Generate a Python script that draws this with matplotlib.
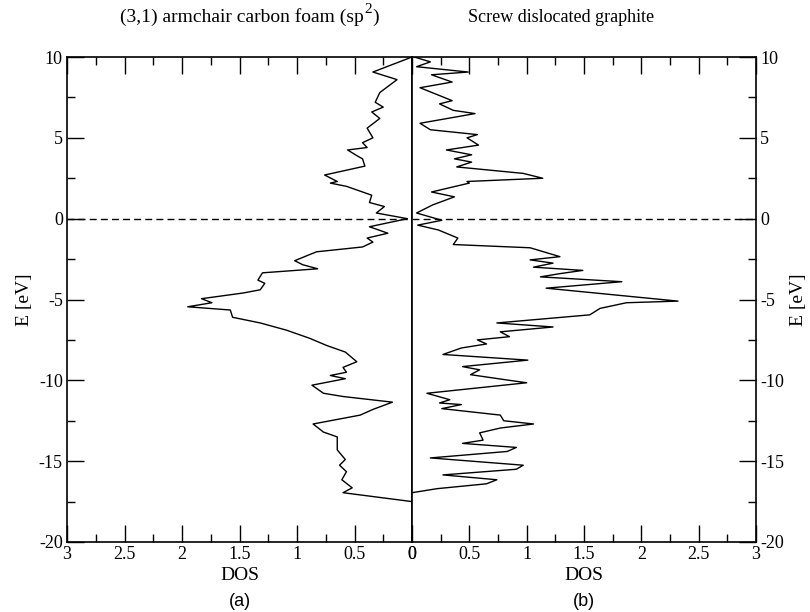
import matplotlib
matplotlib.use("Agg")
import matplotlib.pyplot as plt
from matplotlib.ticker import MultipleLocator, FormatStrFormatter

# (3,1) armchair carbon foam (sp2): energy [eV] and DOS
foam_E = [10.0, 9.07, 8.6, 7.8, 7.2, 6.9, 6.6, 6.2, 5.6, 5.0, 4.7, 4.4, 4.25, 3.9, 3.7,
          3.25, 2.7, 2.3, 2.2, 2.0, 1.45, 1.0, 0.75, 0.35, 0.0, -0.5, -0.9, -1.2, -1.45,
          -1.75, -2.05, -2.25, -2.6, -2.85, -3.1, -3.35, -3.8, -4.0, -4.4, -4.6, -4.95,
          -5.2, -5.45, -5.65, -6.1, -6.45, -6.9, -7.4, -7.85, -8.25, -8.85, -9.2, -9.5,
          -9.7, -9.9, -10.3, -10.8, -11.0, -11.35, -11.8, -12.15, -12.7, -13.2, -13.5,
          -14.3, -14.9, -15.25, -15.65, -16.15, -16.65, -16.95, -17.5]
foam_dos = [0.0, 0.34, 0.13, 0.28, 0.32, 0.25, 0.35, 0.28, 0.39, 0.34, 0.43, 0.39, 0.56, 0.48, 0.43,
            0.41, 0.76, 0.65, 0.71, 0.57, 0.35, 0.37, 0.24, 0.31, 0.04, 0.37, 0.21, 0.39, 0.34,
            0.43, 0.83, 0.90, 1.02, 0.95, 0.82, 1.30, 1.34, 1.28, 1.32, 1.47, 1.83,
            1.74, 1.95, 1.58, 1.56, 1.32, 1.09, 0.89, 0.74, 0.58, 0.48, 0.60, 0.57,
            0.71, 0.58, 0.87, 0.77, 0.60, 0.17, 0.34, 0.45, 0.86, 0.77, 0.65,
            0.65, 0.58, 0.63, 0.57, 0.61, 0.52, 0.60, 0.0]

# screw dislocated graphite
graph_E = [10.0, 9.7, 9.4, 9.07, 8.9, 8.45, 8.1, 7.3, 7.1, 6.7, 6.5, 5.9, 5.5, 5.2, 5.0, 4.55,
           4.25, 3.95, 3.7, 3.5, 3.2, 2.8, 2.5, 2.3, 2.2, 1.65, 1.35, 0.85, 0.35, -0.1, -0.4,
           -0.7, -1.2, -1.6, -1.8, -2.35, -2.55, -2.75, -3.0, -3.2, -3.4, -3.6, -3.9, -4.3,
           -4.85, -5.1, -5.2, -5.55, -5.95, -6.45, -6.7, -7.0, -7.3, -7.5, -7.75, -8.0, -8.4,
           -8.75, -9.15, -9.35, -9.65, -10.0, -10.15, -10.8, -11.2, -11.4, -11.5, -11.75,
           -12.15, -12.5, -12.7, -12.95, -13.25, -13.7, -13.9, -14.15, -14.4, -14.8, -15.25,
           -15.5, -15.85, -16.15, -16.4, -16.7, -16.95]
graph_dos = [0.02, 0.16, 0.04, 0.49, 0.17, 0.35, 0.07, 0.35, 0.24, 0.36, 0.55, 0.07, 0.16, 0.57, 0.48, 0.58,
             0.30, 0.52, 0.37, 0.52, 0.39, 0.97, 1.14, 0.48, 0.50, 0.17, 0.37, 0.18, 0.04, 0.26, 0.05,
             0.23, 0.40, 0.36, 1.03, 1.29, 1.03, 1.23, 1.06, 1.49, 1.29, 1.12, 1.83, 1.17,
             1.96, 2.32, 1.87, 1.64, 1.55, 0.74, 1.23, 0.77, 0.85, 0.57, 0.65, 0.43, 0.27,
             1.01, 0.44, 0.59, 0.51, 0.85, 1.00, 0.13, 0.33, 0.24, 0.43, 0.26,
             0.77, 0.80, 1.06, 0.77, 0.59, 0.62, 0.44, 0.91, 0.83, 0.16, 0.97,
             0.91, 0.27, 0.74, 0.65, 0.22, 0.0]

plt.rcParams["font.family"] = ["Liberation Serif", "DejaVu Serif"]
plt.rcParams["axes.unicode_minus"] = False

fig = plt.figure(figsize=(8.1, 6.12), dpi=100)
axL = fig.add_axes([67 / 810, 1 - 542 / 612, 345 / 810, 485 / 612])
axR = fig.add_axes([412 / 810, 1 - 542 / 612, 344 / 810, 485 / 612])

lw = 1.0
axL.plot(foam_dos, foam_E, color="black", lw=lw)
axR.plot(graph_dos, graph_E, color="black", lw=lw)

for ax in (axL, axR):
    ax.axhline(0, color="black", lw=1.0, ls=(0, (5, 3)))
    ax.set_ylim(-20, 10)
    ax.xaxis.set_major_locator(MultipleLocator(0.5))
    ax.xaxis.set_minor_locator(MultipleLocator(0.25))
    ax.yaxis.set_major_locator(MultipleLocator(5))
    ax.yaxis.set_minor_locator(MultipleLocator(2.5))
    ax.xaxis.set_major_formatter(FormatStrFormatter("%g"))
    ax.tick_params(which="major", direction="in", length=12, width=1.0, labelsize=13, pad=3)
    ax.tick_params(which="minor", direction="in", length=6, width=1.0)
    ax.tick_params(axis="x", which="both", top=True, bottom=True)
    ax.set_xlabel("DOS", fontsize=14, labelpad=3)
    for s in ax.spines.values():
        s.set_linewidth(1.2)

axL.set_xlim(3, 0)
axR.set_xlim(0, 3)

axL.tick_params(axis="y", which="both", left=True, right=False, labelleft=True, labelright=False)
axR.tick_params(axis="y", which="both", left=False, right=True, labelleft=False, labelright=True)
axL.set_ylabel("E [eV]", fontsize=14, labelpad=4)
axR.yaxis.set_label_position("right")
axR.set_ylabel("E [eV]", fontsize=14, labelpad=4)

# left title with a full-height raised "2"
t1 = fig.text(120 / 810, 1 - 22 / 612, "(3,1) armchair carbon foam (sp", ha="left",
              va="baseline", fontsize=14)
t2 = axL.annotate("2", xy=(1, 1), xycoords=t1, xytext=(0.5, 4), textcoords="offset points",
                  ha="left", va="top", fontsize=11, annotation_clip=False)
axL.annotate(")", xy=(1, 0), xycoords=(t2, t1), xytext=(0.5, 0), textcoords="offset points",
             ha="left", va="bottom", fontsize=14, annotation_clip=False)

fig.text(561 / 810, 1 - 22 / 612, "Screw dislocated graphite", ha="center",
         va="baseline", fontsize=13)
fig.text(240 / 810, 1 - 601 / 612, "(a)", ha="center", va="center", fontsize=13,
         family=["Liberation Sans", "DejaVu Sans"])
fig.text(584 / 810, 1 - 601 / 612, "(b)", ha="center", va="center", fontsize=13,
         family=["Liberation Sans", "DejaVu Sans"])

fig.savefig("out.png", dpi=100)
